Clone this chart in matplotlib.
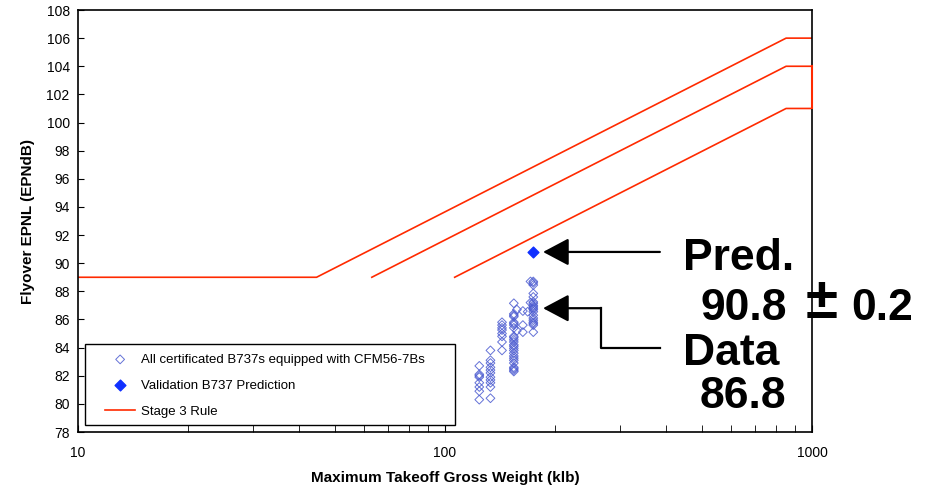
import matplotlib
matplotlib.use("Agg")
import matplotlib.pyplot as plt
from matplotlib.patches import Rectangle
from matplotlib.ticker import FixedLocator, LogLocator, NullFormatter

plt.rcParams['font.family'] = ['Liberation Sans', 'DejaVu Sans']

# Stage 3 flyover rule (4-, 3-, 2-engine)
rule4_w = [10, 44.673, 850, 1000]
rule4_db = [89, 89, 106, 106]
rule3_w = [63.177, 850, 1000]
rule3_db = [89, 104, 104]
rule2_w = [106.25, 850, 1000]
rule2_db = [89, 101, 101]

# All certificated B737s with CFM56-7B (klb, EPNdB)
cert_w = ([124] * 8 + [133] * 11 + [143] * 8 + [154] * 25 +
          [157, 163, 157, 163, 163, 168] + [174] * 19 + [171, 171])
cert_db = ([82.7, 82.1, 82.0, 81.9, 81.5, 81.2, 80.9, 80.3] +
           [83.8, 83.1, 82.9, 82.6, 82.4, 82.2, 81.9, 81.7, 81.5, 81.2, 80.4] +
           [85.8, 85.6, 85.4, 85.25, 85.0, 84.8, 84.4, 83.8] +
           [87.15, 86.4, 86.3, 86.2, 85.8, 85.7, 85.6, 85.4, 84.8, 84.7, 84.55,
            84.4, 84.2, 84.1, 83.95, 83.8, 83.6, 83.4, 83.25, 83.1, 82.9, 82.6,
            82.5, 82.4, 82.3] +
           [86.7, 86.6, 85.2, 85.1, 85.6, 86.55] +
           [88.7, 88.6, 88.45, 87.85, 87.6, 87.25, 87.15, 87.0, 86.9, 86.8, 86.7,
            86.55, 86.3, 86.1, 85.95, 85.8, 85.7, 85.6, 85.1] +
           [88.7, 87.2])

# Validation prediction
pred_w = [174]
pred_db = [90.8]

ytick_vals = list(range(78, 109, 2))
xtick_vals = [10, 100, 1000]
xtick_labels = ["10", "100", "1000"]

fig = plt.figure(figsize=(9.34, 4.91), dpi=100)
AW, AH = 812 - 78, 432 - 10
ax = fig.add_axes([78 / 934, 59 / 491, AW / 934, AH / 491])

red = '#ff2a00'
ax.scatter(cert_w, cert_db, marker='D', s=20, facecolors='none',
           edgecolors='#4a5ad0', linewidths=0.7, alpha=0.85, zorder=3,
           label='All certificated B737s equipped with CFM56-7Bs')
ax.scatter(pred_w, pred_db, marker='D', s=30, color='#1030ff', zorder=4,
           label='Validation B737 Prediction')
ax.plot(rule4_w, rule4_db, color=red, lw=1.2, label='Stage 3 Rule', zorder=2)
ax.plot(rule3_w, rule3_db, color=red, lw=1.2, zorder=2)
ax.plot(rule2_w, rule2_db, color=red, lw=1.2, zorder=2)
ax.plot([1000, 1000], [101, 104], color=red, lw=1.5, zorder=6, clip_on=False)

ax.set_xscale('log')
ax.set_xlim(10, 1000)
ax.set_ylim(78, 108)
ax.xaxis.set_major_locator(FixedLocator(xtick_vals))
ax.set_xticklabels(xtick_labels)
ax.xaxis.set_minor_locator(LogLocator(base=10, subs=range(2, 10)))
ax.xaxis.set_minor_formatter(NullFormatter())
ax.set_yticks(ytick_vals)
ax.tick_params(axis='both', which='both', direction='in', labelsize=10)
ax.tick_params(axis='x', which='major', length=5, pad=10)
ax.tick_params(axis='x', which='minor', length=5)
ax.tick_params(axis='y', which='major', length=4, pad=6)
for s in ax.spines.values():
    s.set_linewidth(1.2)

ax.set_xlabel('Maximum Takeoff Gross Weight (klb)', fontsize=11,
              fontweight='bold', labelpad=8)
ax.set_ylabel('Flyover EPNL (EPNdB)', fontsize=11, fontweight='bold', labelpad=8)

# Legend frame (drawn separately to match wide box) and legend entries
ax.add_patch(Rectangle(((85 - 78) / AW, (432 - 425) / AH), (455 - 85) / AW,
                       (425 - 344) / AH, transform=ax.transAxes, fill=True,
                       facecolor='white', edgecolor='black', lw=1.0, zorder=5))
leg = ax.legend(loc='lower left', bbox_to_anchor=((101 - 78) / AW, (432 - 422) / AH),
                fontsize=9.5, frameon=False,
                borderpad=0.3, labelspacing=1.05, handlelength=2.3,
                handletextpad=0.4, borderaxespad=0)
leg.set_zorder(6)

# Arrows
arrow_kw = dict(arrowstyle='-|>,head_length=1.6,head_width=0.85',
                color='black', lw=1.6, shrinkA=0, shrinkB=0, mutation_scale=10)
ax.annotate('', xy=(185, 90.8), xytext=(385, 90.8), arrowprops=arrow_kw)
ax.plot([266, 266, 385], [86.8, 84.0, 84.0], color='black', lw=1.6)
ax.annotate('', xy=(185, 86.8), xytext=(266, 86.8), arrowprops=arrow_kw)

W, H = 934, 491
big = dict(fontsize=32, fontweight='bold', va='baseline', ha='left')
fig.text(683 / W, 1 - 270 / H, 'Pred.', **big)
fig.text(700 / W, 1 - 320 / H, '90.8', **big)
fig.text(806 / W, 1 - 318 / H, '±', fontsize=42, fontweight='bold',
         va='baseline', ha='left')
fig.text(851 / W, 1 - 320 / H, '0.2', **big)
fig.text(683 / W, 1 - 365 / H, 'Data', **big)
fig.text(700 / W, 1 - 408 / H, '86.8', **big)

fig.savefig('out.png', dpi=100)
